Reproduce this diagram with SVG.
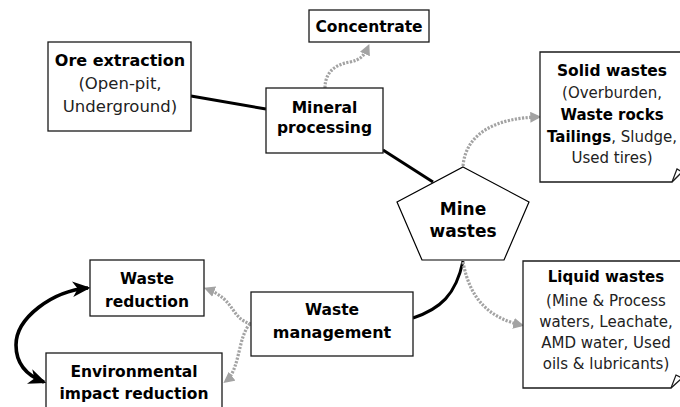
<svg xmlns="http://www.w3.org/2000/svg" width="680" height="407" viewBox="0 0 680 407">
<defs>
<style>
.box{fill:#fff;stroke:#1a1a1a;stroke-width:1.3}
.b{font-family:"DejaVu Sans",sans-serif;font-weight:bold;font-size:15.5px;fill:#000;text-anchor:middle}
.r{font-family:"DejaVu Sans",sans-serif;font-weight:normal;font-size:15px;fill:#222;text-anchor:middle}
.solid{fill:none;stroke:#000;stroke-width:3}
.dot{fill:none;stroke:#a3a3a3;stroke-width:3.2;stroke-dasharray:2.2 1.4}
</style>
<marker id="ga" viewBox="0 0 10 10" refX="7" refY="5" markerWidth="11" markerHeight="11" markerUnits="userSpaceOnUse" orient="auto">
<path d="M0,0 L10,5 L0,10 z" fill="#a3a3a3"/>
</marker>
<marker id="ba" viewBox="0 0 14 12" refX="12" refY="6" markerWidth="18" markerHeight="16" markerUnits="userSpaceOnUse" orient="auto-start-reverse">
<path d="M0,0 L14,6 L0,12 L4,6 z" fill="#000"/>
</marker>
</defs>

<g id="connectors">
<path class="solid" d="M191,96 L266,109"/>
<path class="solid" d="M383,150 L433,182"/>
<path class="solid" d="M463,261 C456,295 440,309 413,318"/>
<path class="dot" marker-end="url(#ga)" d="M325,88 C325,70 338,64 350,62 C360,60 364,56 368,47"/>
<path class="dot" marker-end="url(#ga)" d="M463,166 C466,132 498,118 538,117"/>
<path class="dot" marker-end="url(#ga)" d="M463,262 C470,300 490,318 521,325"/>
<path class="dot" marker-end="url(#ga)" d="M251,324 C230,318 236,300 207,289"/>
<path class="dot" marker-end="url(#ga)" d="M250,324 C238,336 240,370 226,381"/>
<path class="solid" style="stroke-width:3.6" marker-start="url(#ba)" marker-end="url(#ba)" d="M88,288 C52,291 16,318 16,345 C16,365 28,376 44,382"/>
</g>

<g id="ore-extraction">
<rect class="box" x="48" y="42" width="143" height="89"/>
<text class="b" x="120" y="66" style="font-size:16px">Ore extraction</text>
<text class="r" x="120" y="89" style="font-size:16.5px">(Open-pit,</text>
<text class="r" x="120" y="112" style="font-size:16.5px">Underground)</text>
</g>

<g id="mineral-processing">
<rect class="box" x="266" y="88" width="117" height="65"/>
<text class="b" x="324.5" y="113">Mineral</text>
<text class="b" x="324.5" y="133">processing</text>
</g>

<g id="concentrate">
<rect class="box" x="309" y="10" width="120" height="32"/>
<text class="b" x="369" y="32">Concentrate</text>
</g>

<g id="mine-wastes">
<polygon fill="#fff" stroke="#000" stroke-width="1.2" points="463,167 529,202 504,260 422,260 397,202"/>
<text class="b" x="463" y="215" style="font-size:17px">Mine</text>
<text class="b" x="463" y="237" style="font-size:17px">wastes</text>
</g>

<g id="solid-wastes">
<path class="box" d="M540,52 H682 V172 L672,182 H540 Z"/>
<path fill="none" stroke="#1a1a1a" stroke-width="1.2" d="M672,182 L677,169 L682,172"/>
<text class="b" x="612" y="76">Solid wastes</text>
<text class="r" x="612" y="98">(Overburden,</text>
<text class="b" x="612" y="120" style="font-size:15px">Waste rocks</text>
<text class="r" x="612" y="142"><tspan font-weight="bold" fill="#000">Tailings</tspan>, Sludge,</text>
<text class="r" x="612" y="163">Used tires)</text>
</g>

<g id="liquid-wastes">
<path class="box" d="M523,261 H682 V378 L671,388 H523 Z"/>
<path fill="none" stroke="#1a1a1a" stroke-width="1.2" d="M671,388 L676,375 L682,378"/>
<text class="b" x="606" y="282" style="font-size:15px">Liquid wastes</text>
<text class="r" x="606" y="306">(Mine &amp; Process</text>
<text class="r" x="606" y="327">waters, Leachate,</text>
<text class="r" x="606" y="348">AMD water, Used</text>
<text class="r" x="606" y="369">oils &amp; lubricants)</text>
</g>

<g id="waste-management">
<rect class="box" x="251" y="292" width="162" height="64"/>
<text class="b" x="332" y="315">Waste</text>
<text class="b" x="332" y="338" style="font-size:16px">management</text>
</g>

<g id="waste-reduction">
<rect class="box" x="90" y="260" width="114" height="56"/>
<text class="b" x="147" y="284">Waste</text>
<text class="b" x="147" y="307">reduction</text>
</g>

<g id="environmental-impact-reduction">
<rect class="box" x="46" y="353" width="176" height="60"/>
<text class="b" x="134" y="377">Environmental</text>
<text class="b" x="134" y="399">impact reduction</text>
</g>
</svg>
